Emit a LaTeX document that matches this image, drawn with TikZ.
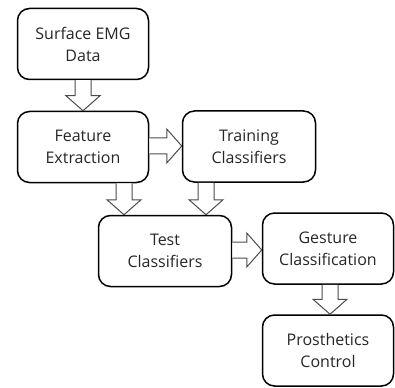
\documentclass[tikz,border=0pt]{standalone}
\usepackage{fontspec}
\setmainfont{Open Sans}
\usetikzlibrary{positioning}

% block arrow pointing down: #1 = x position, #2 = source node, #3 = target node
\newcommand\flowdown[3]{%
  \path (#1,0 |- #2.south) coordinate (s) (#1,0 |- #3.north) coordinate (t);
  \draw[blockarrow] ([xshift=-8pt]s) -- ([xshift=-8pt,yshift=15pt]t)
    -- ([xshift=-17pt,yshift=15pt]t) -- (t)
    -- ([xshift=17pt,yshift=15pt]t) -- ([xshift=8pt,yshift=15pt]t)
    -- ([xshift=8pt]s);
}
% block arrow pointing right: #1 = y position, #2 = source node, #3 = target node
\newcommand\flowright[3]{%
  \path (#2.east |- 0,#1) coordinate (s) (#3.west |- 0,#1) coordinate (t);
  \draw[blockarrow] ([yshift=8pt]s) -- ([xshift=-15pt,yshift=8pt]t)
    -- ([xshift=-15pt,yshift=17pt]t) -- (t)
    -- ([xshift=-15pt,yshift=-17pt]t) -- ([xshift=-15pt,yshift=-8pt]t)
    -- ([yshift=-8pt]s);
}

\begin{document}
\begin{tikzpicture}[x=1pt,y=-1pt,
  stage/.style={draw=black, line width=1.5pt, rounded corners=12pt,
    minimum width=131pt, minimum height=71pt, inner sep=0pt,
    align=center, text=black!85, font=\fontsize{16}{22}\selectfont},
  blockarrow/.style={draw=black!70, line width=1pt, fill=white, line join=miter}]
  \useasboundingbox (0,0) rectangle (395,387);

  \node[stage] (emg)   at (83,44)    {Surface EMG\\Data};
  \node[stage] (feat)  at (83,147)   {Feature\\Extraction};
  \node[stage, minimum width=133pt] (train) at (249,146.5) {Training\\Classifiers};
  \node[stage, minimum width=133pt] (test)  at (165,251)   {Test\\Classifiers};
  \node[stage] (gest)  at (328,248.5) {Gesture\\Classification};
  \node[stage] (pros)  at (328,350.5) {Prosthetics\\Control};

  \flowdown{83}{emg}{feat}
  \flowright{146}{feat}{train}
  \flowdown{124}{feat}{test}
  \flowdown{206}{train}{test}
  \flowright{250}{test}{gest}
  \flowdown{330}{gest}{pros}
\end{tikzpicture}
\end{document}
